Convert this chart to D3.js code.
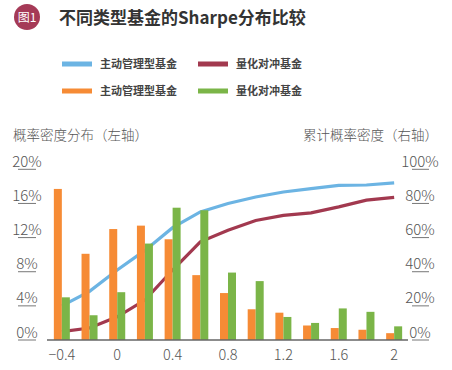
<!DOCTYPE html>
<html><head><meta charset="utf-8">
<script src="https://cdn.jsdelivr.net/npm/d3@7"></script>
<style>
body{margin:0;background:#fff;}
text{font-family:"Noto Sans CJK SC","Noto Sans",sans-serif;}
</style></head>
<body><svg id="c" width="452" height="370"></svg>
<script>
const categories = [-0.4,-0.2,0,0.2,0.4,0.6,0.8,1.0,1.2,1.4,1.6,1.8,2.0];
const tickCategories = [-0.4,0,0.4,0.8,1.2,1.6,2.0];
const activeDensity = [17.7,10.1,13.0,13.4,11.8,7.6,5.5,3.6,3.2,1.7,1.4,1.2,0.8];
const hedgeDensity  = [5.0,2.9,5.6,11.3,15.5,15.2,7.9,6.9,2.7,2.0,3.7,3.3,1.6];
const activeCum = [20,28.5,41,52.5,65.8,75,80,83.8,86.7,88.7,90.6,90.8,92];
const hedgeCum  = [4.9,7,13.6,23.4,41,57.5,64.3,70,73,74.5,78,81.9,83.5];
const leftTicks = [0,4,8,12,16,20];
const rightTicks = [0,20,40,60,80,100];
const seriesNames = ["主动管理型基金","量化对冲基金"];
const colors = {activeLine:"#6cb4e3", hedgeLine:"#a2394f", activeBar:"#f68b35", hedgeBar:"#7bb548"};

const svg = d3.select("#c");
const x = d3.scaleBand().domain(categories).range([48,408]);
const yL = d3.scaleLinear().domain([0,20]).range([340,169.3]);
const yR = d3.scaleLinear().domain([0,100]).range([340,169.3]);
const cx = d => x(d) + x.bandwidth()/2;
const bw = 8;

// title
svg.append("circle").attr("cx",27).attr("cy",17).attr("r",13).attr("fill","#a53a57");
svg.append("text").attr("x",27).attr("y",21.5).attr("text-anchor","middle").attr("fill","#fff")
  .attr("font-size",12).text("图1");
svg.append("text").attr("x",59).attr("y",24).attr("font-size",17).attr("font-weight","bold")
  .attr("fill","#333").text("不同类型基金的Sharpe分布比较");

// legend
const legend = [
  {c:colors.activeLine,t:seriesNames[0],x:62,y:64},
  {c:colors.hedgeLine,t:seriesNames[1],x:198,y:64},
  {c:colors.activeBar,t:seriesNames[0],x:62,y:91},
  {c:colors.hedgeBar,t:seriesNames[1],x:198,y:91}
];
const lg = svg.selectAll("g.lg").data(legend).enter().append("g");
lg.append("rect").attr("x",d=>d.x).attr("y",d=>d.y-2.5).attr("width",30).attr("height",5).attr("fill",d=>d.c);
lg.append("text").attr("x",d=>d.x+38).attr("y",d=>d.y+4).attr("font-size",11).attr("font-weight","bold")
  .attr("fill","#444").text(d=>d.t);

// axis titles
svg.append("text").attr("x",13).attr("y",140).attr("font-size",13.5).attr("fill","#555").attr("font-weight",300)
  .text("概率密度分布（左轴）");
svg.append("text").attr("x",438).attr("y",140).attr("text-anchor","end").attr("font-size",13.5).attr("fill","#555").attr("font-weight",300)
  .text("累计概率密度（右轴）");

// left axis labels
const lft = svg.append("g");
leftTicks.forEach(v=>{
  lft.append("line").attr("x1",18).attr("x2",36).attr("y1",yL(v)).attr("y2",yL(v)).attr("stroke","#777").attr("stroke-width",1);
  lft.append("text").attr("x",27).attr("y",yL(v)-2.5).attr("text-anchor","middle").attr("font-size",15)
    .attr("font-family","Lato, 'Open Sans', sans-serif").attr("font-weight",300).attr("fill","#555").text(v+"%");
});
const rgt = svg.append("g");
rightTicks.forEach(v=>{
  rgt.append("line").attr("x1",412).attr("x2",429).attr("y1",yR(v)).attr("y2",yR(v)).attr("stroke","#777").attr("stroke-width",1);
  rgt.append("text").attr("x",420).attr("y",yR(v)-2.5).attr("text-anchor","middle").attr("font-size",15)
    .attr("font-family","Lato, 'Open Sans', sans-serif").attr("font-weight",300).attr("fill","#555").text(v+"%");
});

// lines
const lineA = d3.line().x((d,i)=>cx(categories[i])).y(d=>yR(d));
svg.append("path").attr("d",lineA(activeCum)).attr("fill","none").attr("stroke",colors.activeLine).attr("stroke-width",3.2);
svg.append("path").attr("d",lineA(hedgeCum)).attr("fill","none").attr("stroke",colors.hedgeLine).attr("stroke-width",3.2);

// bars
svg.selectAll("rect.a").data(activeDensity).enter().append("rect")
  .attr("x",(d,i)=>cx(categories[i])-bw).attr("width",bw)
  .attr("y",d=>yL(d)).attr("height",d=>yL(0)-yL(d)).attr("fill",colors.activeBar);
svg.selectAll("rect.h").data(hedgeDensity).enter().append("rect")
  .attr("x",(d,i)=>cx(categories[i])).attr("width",bw)
  .attr("y",d=>yL(d)).attr("height",d=>yL(0)-yL(d)).attr("fill",colors.hedgeBar);

// x axis
svg.append("line").attr("x1",47).attr("x2",408).attr("y1",340).attr("y2",340).attr("stroke","#666").attr("stroke-width",1.5);
svg.selectAll("text.xt").data(tickCategories).enter().append("text")
  .attr("x",d=>cx(d)).attr("y",360).attr("text-anchor","middle").attr("font-size",14.5)
  .attr("font-family","Lato, 'Open Sans', sans-serif").attr("font-weight",300).attr("fill","#555")
  .text(d=>d<0?"−"+Math.abs(d):String(d));
</script></body></html>
